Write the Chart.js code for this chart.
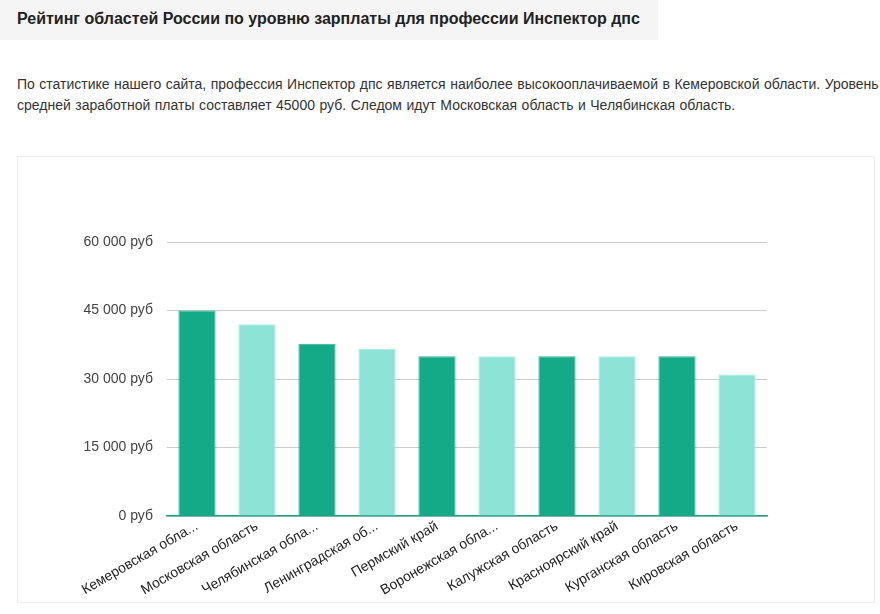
<!DOCTYPE html>
<html lang="ru">
<head>
<meta charset="utf-8">
<script src="https://cdn.jsdelivr.net/npm/chart.js@4"></script>
<style>
  html, body { margin: 0; padding: 0; background: #fff; }
  body { font-family: "Liberation Sans", Arial, sans-serif; color: #333; width: 880px; height: 614px; position: relative; overflow: hidden; }
  .head { position: absolute; left: 0; top: 0; width: 658px; height: 40px; background: #f5f5f5; }
  .head h2 { margin: 0; padding: 0 0 0 17px; line-height: 38px; font-size: 16px; font-weight: bold; color: #222; }
  .txt { position: absolute; left: 17px; top: 74px; white-space: nowrap; font-size: 14px; word-spacing: 0.6px; line-height: 21px; color: #333; margin: 0; }
  .box { position: absolute; left: 17px; top: 156px; width: 858px; height: 447px; border: 1px solid #eeeeee; box-sizing: border-box; }
</style>
</head>
<body>
<div class="head"><h2>Рейтинг областей России по уровню зарплаты для профессии Инспектор дпс</h2></div>
<p class="txt">По статистике нашего сайта, профессия Инспектор дпс является наиболее высокооплачиваемой в Кемеровской области. Уровень<br>средней заработной платы составляет 45000 руб. Следом идут Московская область и Челябинская область.</p>
<div class="box"><canvas id="salary_chart"></canvas></div>
<script>
const regions = [
  "Кемеровская обла...", "Московская область", "Челябинская обла...", "Ленинградская об...",
  "Пермский край", "Воронежская обла...", "Калужская область", "Красноярский край",
  "Курганская область", "Кировская область"
];
const salaries = [45000, 42000, 37700, 36600, 35000, 35000, 35000, 35000, 35000, 31000];
const yTicks = [0, 15000, 30000, 45000, 60000];

(function () {
  const area = document.getElementById("salary_chart");
  const box = area.parentNode;
  area.width = box.clientWidth;
  area.height = box.clientHeight;

  const dark = "#15aa87";
  const light = "#8de3d6";
  const fmt = (v) => String(v).replace(/\B(?=(\d{3})+(?!\d))/g, " ") + " руб";

  new Chart(area, {
    type: "bar",
    data: {
      labels: regions,
      datasets: [{
        data: salaries,
        backgroundColor: salaries.map((_, i) => (i % 2 ? light : dark)),
        borderColor: salaries.map((_, i) => (i % 2 ? "#a6ebe1" : "#2fb794")),
        borderWidth: 1,
        barPercentage: 0.62,
        categoryPercentage: 1,
      }],
    },
    options: {
      responsive: false,
      animation: false,
      layout: { padding: { top: 85, right: 107, left: 0, bottom: 0 } },
      plugins: { legend: { display: false }, tooltip: { enabled: false } },
      scales: {
        x: {
          grid: { display: false, drawTicks: false },
          border: { color: "#239f82", width: 1.5 },
          ticks: {
            minRotation: 30, maxRotation: 30, autoSkip: false,
            color: "#222", padding: 2,
            font: { family: "Liberation Sans", size: 14 },
          },
          afterFit: (s) => { s.height = 86; },
        },
        y: {
          min: 0, max: 60000,
          afterBuildTicks: (s) => { s.ticks = yTicks.map((v) => ({ value: v })); },
          grid: { color: "#cccccc", drawTicks: false },
          border: { display: false },
          ticks: {
            color: "#444", padding: 14,
            font: { family: "Liberation Sans", size: 14 },
            callback: (v) => fmt(v),
          },
          afterFit: (s) => { s.width = 149; },
        },
      },
    },
  });
})();
</script>
</body>
</html>
